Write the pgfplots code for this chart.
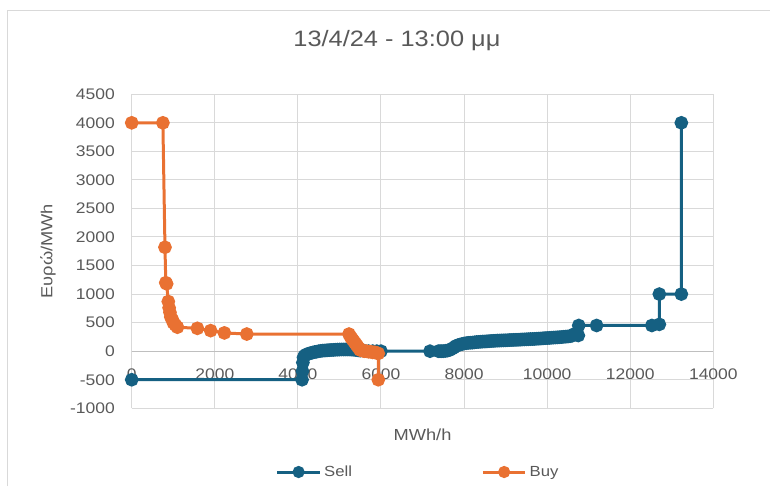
\documentclass[border=0pt]{standalone}
\usepackage{fontspec}
\setmainfont{Liberation Sans}[FakeStretch=1.14]
\usepackage{pgfplots}
\pgfplotsset{compat=1.18}
\definecolor{sellc}{HTML}{156082}
\definecolor{buyc}{HTML}{E97132}
\definecolor{txt}{HTML}{595959}
\definecolor{grd}{HTML}{D9D9D9}
\definecolor{axl}{HTML}{BFBFBF}
\begin{document}
\begin{tikzpicture}
\useasboundingbox (-98.8pt,-58.3pt) rectangle (478.7pt,306.2pt);
\draw[grd, line width=0.75pt] (-93.5pt,-58.3pt) -- (-93.5pt,298.2pt) -- (478.7pt,298.2pt);
\begin{axis}[
  scale only axis, width=436.2pt, height=235.5pt,
  xmin=0, xmax=14000, ymin=-1000, ymax=4500,
  xtick={0,2000,...,14000}, ytick={-1000,-500,...,4500},
  scaled x ticks=false, scaled y ticks=false,
  axis line style={draw=none},
  major tick length=0pt,
  grid=major, grid style={grd, line width=0.75pt},
  extra y ticks={0}, extra y tick labels={},
  extra y tick style={grid style={axl, line width=0.9pt}},
  /pgf/number format/assume math mode=true,
  /pgf/number format/1000 sep={},
  ticklabel style={font=\fontsize{11.5}{13}\selectfont, text=txt},
  xticklabel style={anchor=center, inner sep=0pt, yshift=25.7pt},
  yticklabel style={anchor=east, inner sep=0pt, xshift=-12.5pt},
  xlabel={MWh/h},
  xlabel style={at={(axis description cs:0.5,-0.085)}, anchor=center, font=\fontsize{12}{14}\selectfont, text=txt},
  ylabel={Ευρώ/MWh},
  ylabel style={at={(axis description cs:-0.144,0.5)}, anchor=center, rotate=0, font=\fontsize{12}{14}\selectfont, text=txt},
  title={13/4/24 - 13:00 μμ},
  title style={at={(axis description cs:0.456,1.127)}, anchor=base, font=\fontsize{16.7}{20}\selectfont, text=txt},
  legend columns=2,
  legend style={draw=none, fill=none, at={(axis description cs:0.493,-0.203)}, anchor=center,
    font=\fontsize{11}{13}\selectfont, text=txt,
    /tikz/every even column/.append style={column sep=95pt}},
  legend image code/.code={\draw[mark repeat=2,mark phase=2,mark size=3.4pt] plot coordinates {(0pt,0pt)(16pt,0pt)(32pt,0pt)};},
  every axis plot/.append style={line width=2.25pt, mark=*, mark size=4pt},
]
\addplot[sellc, mark options={fill=sellc, draw=sellc}] coordinates {
(0,-500) (4100,-500) (4110,-350) (4120,-200) (4135,-110) (4160,-80) (4200,-60) (4250,-45)
(4300,-35) (4350,-25) (4400,-15) (4450,-10) (4500,0) (4550,5) (4600,10) (4650,12) (4700,15)
(4750,18) (4800,20) (4850,22) (4900,25) (4950,27) (5000,28) (5050,30) (5100,30) (5150,30)
(5200,30) (5250,30) (5300,28) (5350,25) (5400,20) (5450,15) (5500,10) (5600,5) (5700,0)
(5800,0) (5900,0) (6000,0) (7180,0) (7380,0) (7420,0) (7460,0) (7500,0) (7550,5) (7600,10)
(7650,20) (7700,40) (7750,60) (7800,90) (7850,105) (7900,115) (7950,125) (8000,135)
(8050,140) (8100,145) (8150,148) (8200,150) (8250,155) (8300,160) (8350,162) (8400,165)
(8450,168) (8500,170) (8550,172) (8600,175) (8650,178) (8700,180) (8750,182) (8800,185)
(8850,186) (8900,188) (8950,189) (9000,190) (9050,192) (9100,195) (9150,196) (9200,198)
(9250,199) (9300,200) (9350,202) (9400,205) (9450,206) (9500,208) (9550,210) (9600,212)
(9650,213) (9700,215) (9750,218) (9800,220) (9850,222) (9900,225) (9950,228) (10000,230)
(10050,232) (10100,235) (10150,238) (10200,240) (10250,242) (10300,245) (10350,248)
(10400,252) (10450,255) (10500,258) (10550,262) (10600,270) (10650,300) (10700,290)
(10750,275) (10760,450) (11190,450) (12520,450) (12700,470) (12700,1000) (13230,1000)
(13230,4000)
};
\addlegendentry{Sell}
\addplot[buyc, mark options={fill=buyc, draw=buyc}] coordinates {
(0,4000) (750,4000) (800,1820) (820,1200) (840,1180) (880,870) (900,760) (920,680)
(940,600) (980,550) (1000,500) (1050,460) (1100,420) (1580,400) (1900,360) (2230,320)
(2770,300) (5230,300) (5260,260) (5290,230) (5320,200) (5350,170) (5380,140) (5410,110)
(5440,80) (5470,50) (5500,20) (5550,10) (5600,0) (5650,0) (5700,-10) (5750,-10)
(5800,-20) (5850,-20) (5900,-30) (5935,-40) (5935,-500)
};
\addlegendentry{Buy}
\end{axis}
\end{tikzpicture}
\end{document}
